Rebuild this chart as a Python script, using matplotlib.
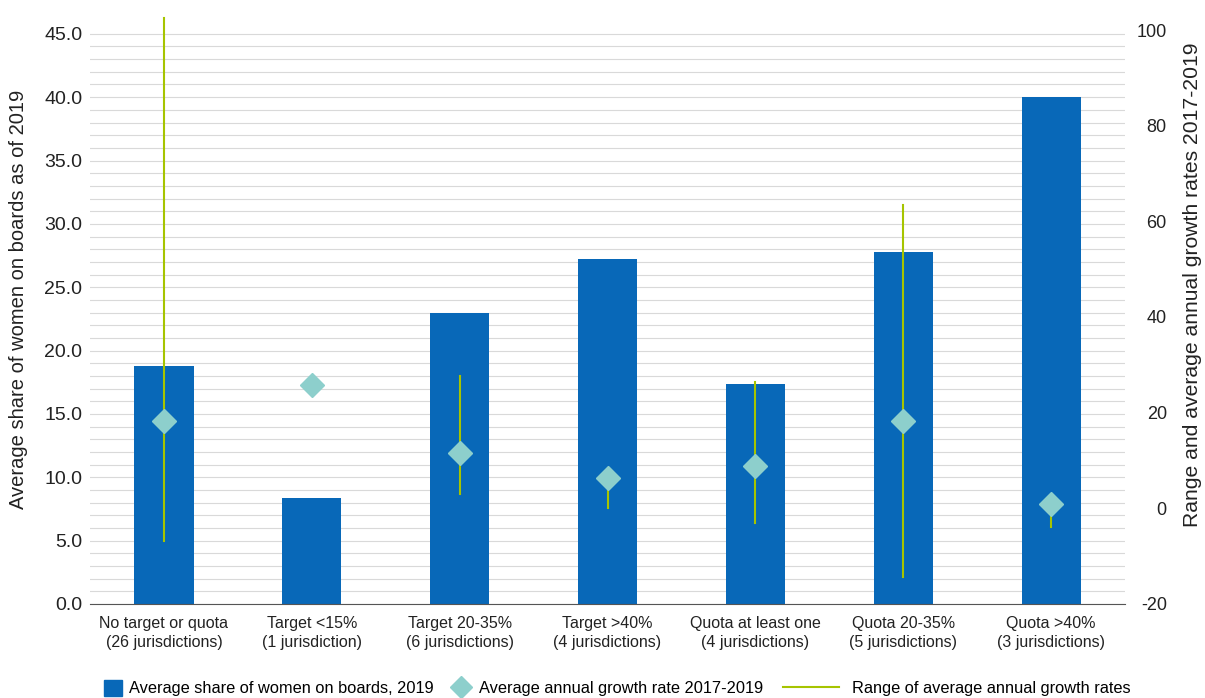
import matplotlib.pyplot as plt
import numpy as np
from matplotlib.lines import Line2D
from matplotlib.patches import Patch
from matplotlib.ticker import MultipleLocator

categories = [
    "No target or quota\n(26 jurisdictions)",
    "Target <15%\n(1 jurisdiction)",
    "Target 20-35%\n(6 jurisdictions)",
    "Target >40%\n(4 jurisdictions)",
    "Quota at least one\n(4 jurisdictions)",
    "Quota 20-35%\n(5 jurisdictions)",
    "Quota >40%\n(3 jurisdictions)",
]
share_2019 = [18.8, 8.4, 23.0, 27.2, 17.4, 27.8, 40.0]
growth_avg = [18.2, 25.7, 11.5, 6.3, 8.8, 18.2, 1.0]
growth_min = [-6.9, np.nan, 2.9, 0.0, -3.1, -14.4, -4.0]
growth_max = [102.5, np.nan, 27.6, 7.0, 26.4, 63.4, 2.5]

left_ticks = np.arange(0, 46, 5)
right_ticks = np.arange(-20, 101, 20)

BAR = "#0868b8"
DIAMOND = "#8dcfcc"
RANGE = "#a6c400"
TXT = "#222222"

plt.rcParams["font.family"] = ["Liberation Sans", "DejaVu Sans"]

fig = plt.figure(figsize=(12.05, 6.98), dpi=100)
ax = fig.add_axes([0.0747, 0.1347, 0.859, 0.8223])
ax2 = ax.twinx()

x = np.arange(len(categories))
ax.bar(x, share_2019, width=0.4, color=BAR, zorder=2)

ax.set_xlim(-0.5, len(categories) - 0.5)
ax.set_ylim(0, 45.3)
ax.yaxis.set_minor_locator(MultipleLocator(1))
ax.set_yticks(left_ticks)
ax.set_yticklabels([f"{v:.1f}" for v in left_ticks], fontsize=14, color=TXT)
ax.grid(axis="y", which="both", color="#d9d9d9", linewidth=0.8, zorder=0)
ax.set_axisbelow(True)
ax.set_xticks(x)
ax.set_xticklabels(categories, fontsize=11.5, color=TXT, linespacing=1.3)
ax.tick_params(axis="y", which="both", length=0, pad=5.5)
ax.tick_params(axis="x", which="both", length=0, pad=9)
for side in ["top", "right", "left"]:
    ax.spines[side].set_visible(False)
ax.spines["bottom"].set_color("#555555")
ax.set_ylabel("Average share of women on boards as of 2019", fontsize=14.5, color=TXT)
ax.yaxis.set_label_coords(-0.06, 0.53)

ax2.set_ylim(-20, 100)
ax2.set_yticks(right_ticks)
ax2.set_yticklabels([str(v) for v in right_ticks], fontsize=13, color=TXT, ha="right")
ax2.tick_params(axis="y", length=0, pad=30)
for side in ["top", "right", "left", "bottom"]:
    ax2.spines[side].set_visible(False)
ax2.set_ylabel("Range and average annual growth rates 2017-2019", fontsize=15.2, color=TXT)
ax2.yaxis.set_label_coords(1.056, 0.556)

for xi, lo, hi in zip(x, growth_min, growth_max):
    if np.isnan(lo):
        continue
    ax2.plot([xi, xi], [lo, hi], color=RANGE, linewidth=1.5, zorder=3, clip_on=False)
ax2.plot(x, growth_avg, linestyle="none", marker="D", markersize=12.5,
         color=DIAMOND, zorder=4)

# legend: three separate entries so each handle can have its own length
leg_y = 1 - 688 / 698
entries = [
    (Patch(facecolor=BAR, edgecolor=BAR), "Average share of women on boards, 2019",
     104, 1.1, 0.45),
    (Line2D([], [], linestyle="none", marker="D", markersize=11, color=DIAMOND),
     "Average annual growth rate 2017-2019", 448, 1.6, 0.3),
    (Line2D([], [], color=RANGE, linewidth=1.5), "Range of average annual growth rates",
     783, 3.4, 0.8),
]
for handle, label, left_px, hlen, tpad in entries:
    fig.legend([handle], [label], loc="center left",
               bbox_to_anchor=(left_px / 1205, leg_y), frameon=False,
               fontsize=11.8, handlelength=hlen, handleheight=1.1,
               handletextpad=tpad, borderpad=0, borderaxespad=0)

fig.savefig("out.png", dpi=100)
